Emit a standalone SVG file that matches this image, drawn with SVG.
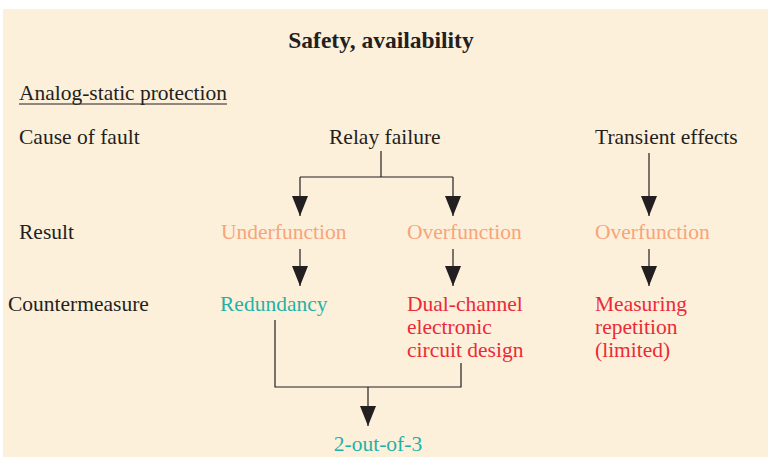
<svg xmlns="http://www.w3.org/2000/svg" width="768" height="457" viewBox="0 0 768 457">
  <style>
    text { font-family: "Liberation Serif", "Times New Roman", serif; font-size: 21.5px; fill: #231f20; }
    .title { font-weight: bold; font-size: 23.5px; text-anchor: middle; }
    .res { fill: #f7a47a; }
    .teal { fill: #1fb3a6; }
    .red { fill: #ec2a37; }
    .line { fill: none; stroke: #231f20; stroke-width: 1.2; }
  </style>
  <defs>
    <marker id="arrow" viewBox="0 0 20 16" refX="20" refY="8" markerWidth="20" markerHeight="16" markerUnits="userSpaceOnUse" orient="auto">
      <path d="M0,0 L20,8 L0,16 Z" fill="#231f20"/>
    </marker>
  </defs>
  <rect x="0" y="0" width="768" height="457" fill="#ffffff"/>
  <rect x="3" y="9" width="765" height="448" fill="#fdf0da"/>

  <g id="title"><text class="title" x="381" y="48">Safety, availability</text></g>
  <g id="heading">
    <text x="19" y="100" textLength="208" lengthAdjust="spacingAndGlyphs">Analog-static protection</text>
    <line x1="19" y1="104" x2="227" y2="104" stroke="#231f20" stroke-width="1.2"/>
  </g>

  <g id="row-labels">
    <text x="19" y="144">Cause of fault</text>
    <text x="19" y="239">Result</text>
    <text x="8" y="311">Countermeasure</text>
  </g>

  <g id="relay-failure"><text x="329" y="144">Relay failure</text></g>
  <g id="transient-effects"><text x="595" y="144">Transient effects</text></g>

  <g id="underfunction"><text class="res" x="221" y="239">Underfunction</text></g>
  <g id="overfunction-1"><text class="res" x="407" y="239">Overfunction</text></g>
  <g id="overfunction-2"><text class="res" x="595" y="239">Overfunction</text></g>

  <g id="redundancy"><text class="teal" x="220" y="311">Redundancy</text></g>
  <g id="dual-channel">
    <text class="red" x="407" y="311">Dual-channel</text>
    <text class="red" x="407" y="334">electronic</text>
    <text class="red" x="407" y="357">circuit design</text>
  </g>
  <g id="measuring">
    <text class="red" x="595" y="311">Measuring</text>
    <text class="red" x="595" y="334">repetition</text>
    <text class="red" x="595" y="357">(limited)</text>
  </g>

  <g id="two-of-three"><text class="teal" x="378" y="451" text-anchor="middle">2-out-of-3</text></g>

  <g id="connectors">
    <polyline class="line" points="381,151 381,177"/>
    <polyline class="line" points="300,177 453,177"/>
    <polyline class="line" points="300,177 300,216" marker-end="url(#arrow)"/>
    <polyline class="line" points="453,177 453,216" marker-end="url(#arrow)"/>
    <polyline class="line" points="649,153 649,216" marker-end="url(#arrow)"/>
    <polyline class="line" points="300,249 300,286" marker-end="url(#arrow)"/>
    <polyline class="line" points="453,249 453,286" marker-end="url(#arrow)"/>
    <polyline class="line" points="649,249 649,286" marker-end="url(#arrow)"/>
    <polyline class="line" points="275,320 275,387 461,387 461,363"/>
    <polyline class="line" points="368,387 368,426" marker-end="url(#arrow)"/>
  </g>
</svg>
